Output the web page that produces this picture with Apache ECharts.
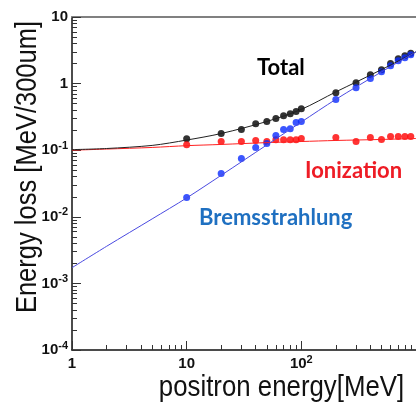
<!DOCTYPE html>
<html>
<head>
<meta charset="utf-8">
<script src="https://cdn.jsdelivr.net/npm/echarts@6/dist/echarts.min.js"></script>
<style>html,body{margin:0;padding:0;background:#fff}#c{width:416px;height:403px}</style>
</head>
<body>
<div id="c"></div>
<script>
// measured points
const energies = [10,20,30,40,50,60,70,80,90,100,200,300,400,500,600,700,800,900];
const totalLoss = [0.149,0.178,0.205,0.25,0.27,0.30,0.33,0.354,0.38,0.42,0.73,1.03,1.36,1.62,2.0,2.37,2.63,2.85];
const bremsLoss = [0.0195,0.0445,0.075,0.11,0.126,0.166,0.204,0.21,0.26,0.27,0.575,0.87,1.19,1.51,1.86,2.2,2.45,2.7];
const ionLoss = [0.121,0.135,0.135,0.14,0.135,0.144,0.144,0.144,0.144,0.15,0.155,0.135,0.155,0.145,0.16,0.16,0.16,0.16];
// model curves
const curveEnergy = [1,2,5,10,20,50,100,200,500,1000];
const totalCurve = [0.102,0.106,0.118,0.142,0.178,0.27,0.41,0.75,1.62,3.0];
const bremsCurve = [0.00172,0.0036,0.0093,0.0192,0.042,0.12,0.265,0.58,1.5,3.0];
const ionCurve = [0.10,0.104,0.11,0.117,0.122,0.13,0.135,0.14,0.145,0.15];
// ticks
const xTicks = [1,10,100];
const xTickBase = ['1','10','10'];
const xTickExp = ['','','2'];
const yTicks = [1e-4,1e-3,1e-2,1e-1,1,10];
const yTickBase = ['10','10','10','10','1','10'];
const yTickExp = ['-4','-3','-2','-1','',''];
const xMinor = [], yMinor = [];
[1,10,100].forEach(d => { for (let k=2;k<=9;k++) xMinor.push(k*d); });
[1e-4,1e-3,1e-2,1e-1,1].forEach(d => { for (let k=2;k<=9;k++) yMinor.push(+(k*d).toPrecision(3)); });

function pair(a,b){ return a.map((v,i)=>[v,b[i]]); }
function makeFmt(ticks, base, exp){
  return function(v){
    const i = ticks.findIndex(t => Math.abs(Math.log10(t)-Math.log10(v)) < 1e-6);
    if (i < 0) return '';
    return '{b|' + base[i] + '}' + (exp[i] ? '{s|' + exp[i] + '}' : '');
  };
}
const FONT = "'Liberation Sans', Arial, sans-serif";
const rich = {
  b: {fontSize: 15, fontWeight: 'bold', fontFamily: FONT, color: '#111', lineHeight: 20},
  s: {fontSize: 11, fontWeight: 'bold', fontFamily: FONT, color: '#111', verticalAlign: 'top', lineHeight: 20}
};
const G = {left: 72, top: 17, width: 352.5, height: 333};

const chart = echarts.init(document.getElementById('c'), null, {renderer: 'canvas'});
chart.setOption({
  animation: false,
  backgroundColor: '#fff',
  grid: G,
  xAxis: [
    {type: 'log', logBase: 10, min: 1, max: 1000, position: 'bottom',
     axisLine: {lineStyle: {color: '#111', width: 1.5}},
     axisTick: {inside: true, length: 9, customValues: xTicks, lineStyle: {color: '#333', width: 1}},
     axisLabel: {customValues: xTicks, formatter: makeFmt(xTicks, xTickBase, xTickExp), rich: rich, margin: 4},
     splitLine: {show: false}, minorTick: {show: false}},
    {type: 'log', logBase: 10, min: 1, max: 1000, position: 'bottom',
     axisLine: {show: false},
     axisTick: {inside: true, length: 5, customValues: xMinor, lineStyle: {color: '#333', width: 1}},
     axisLabel: {show: false}, splitLine: {show: false}},
    {type: 'log', logBase: 10, min: 1, max: 1000, position: 'top',
     axisLine: {lineStyle: {color: '#808080', width: 2}},
     axisTick: {show: false}, axisLabel: {show: false}, splitLine: {show: false}}
  ],
  yAxis: [
    {type: 'log', logBase: 10, min: 1e-4, max: 10, position: 'left',
     axisLine: {lineStyle: {color: '#111', width: 1.5}},
     axisTick: {inside: true, length: 9, customValues: yTicks, lineStyle: {color: '#333', width: 1}},
     axisLabel: {customValues: yTicks, formatter: makeFmt(yTicks, yTickBase, yTickExp), rich: rich, margin: 4},
     splitLine: {show: false}},
    {type: 'log', logBase: 10, min: 1e-4, max: 10, position: 'left',
     axisLine: {show: false},
     axisTick: {inside: true, length: 5, customValues: yMinor, lineStyle: {color: '#333', width: 1}},
     axisLabel: {show: false}, splitLine: {show: false}}
  ],
  series: [
    {type: 'line', data: pair(curveEnergy, ionCurve), showSymbol: false, smooth: 0.3, silent: true,
     lineStyle: {color: '#ff2020', width: 1}},
    {type: 'line', data: pair(curveEnergy, totalCurve), showSymbol: false, smooth: 0.3, silent: true,
     lineStyle: {color: '#222', width: 1}},
    {type: 'line', data: pair(curveEnergy, bremsCurve), showSymbol: false, smooth: 0.3, silent: true,
     lineStyle: {color: '#4a4ae0', width: 1}},
    {type: 'scatter', data: pair(energies, totalLoss), symbolSize: 7, itemStyle: {color: '#000'}, silent: true},
    {type: 'scatter', data: pair(energies, ionLoss), symbolSize: 7, itemStyle: {color: '#ff0000'}, silent: true},
    {type: 'scatter', data: pair(energies, bremsLoss), symbolSize: 7, itemStyle: {color: '#0a2cff'}, silent: true}
  ],
  graphic: [
    {type: 'text', x: 28, y: 167, rotation: Math.PI/2, scaleX: 0.88,
     style: {text: 'Energy loss [MeV/300um]', x: 0, y: 0, textAlign: 'center', textVerticalAlign: 'middle',
             font: "29px 'Liberation Sans', Arial, sans-serif", fill: '#111'}},
    {type: 'text', x: 281.5, y: 388, scaleX: 0.89,
     style: {text: 'positron energy[MeV]', x: 0, y: 0, textAlign: 'center', textVerticalAlign: 'middle',
             font: "29px 'Liberation Sans', Arial, sans-serif", fill: '#111'}},
    {type: 'text', x: 257, y: 68,
     style: {text: 'Total', textAlign: 'left', textVerticalAlign: 'middle',
             font: "bold 22px Lato, 'Open Sans', sans-serif", fill: '#000'}},
    {type: 'text', x: 305, y: 171,
     style: {text: 'Ionization', textAlign: 'left', textVerticalAlign: 'middle',
             font: "bold 22px Lato, 'Open Sans', sans-serif", fill: '#ee1c25'}},
    {type: 'text', x: 199, y: 218,
     style: {text: 'Bremsstrahlung', textAlign: 'left', textVerticalAlign: 'middle',
             font: "bold 22px Lato, 'Open Sans', sans-serif", fill: '#1f70c1'}}
  ]
});
</script>
</body>
</html>
